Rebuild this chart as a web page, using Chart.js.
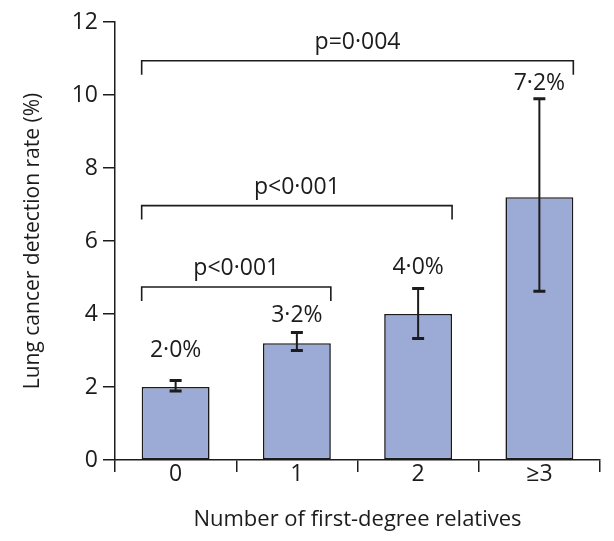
<!DOCTYPE html>
<html>
<head>
<meta charset="utf-8">
<script src="https://cdn.jsdelivr.net/npm/chart.js@4/dist/chart.umd.min.js"></script>
<style>
  html, body { margin: 0; padding: 0; background: #ffffff; }
  #wrap { width: 614px; height: 541px; }
</style>
</head>
<body>
<div id="wrap"><canvas id="chart" width="614" height="541"></canvas></div>
<script>
// Detection rate by number of affected first-degree relatives
const categories = ['0', '1', '2', '≥3'];
const detectionRate = [2.0, 3.2, 4.0, 7.2];
const ciLower = [1.89, 3.00, 3.33, 4.62];
const ciUpper = [2.18, 3.49, 4.70, 9.90];
const rateLabels = ['2·0%', '3·2%', '4·0%', '7·2%'];
const yTicks = [0, 2, 4, 6, 8, 10, 12];

// Pairwise comparisons against the "0 relatives" group
const compareFrom = [0, 0, 0];
const compareTo = [1, 2, 3];
const pValues = ['p<0·001', 'p<0·001', 'p=0·004'];

// Annotation layout (heights of the brackets in axis units, label lifts in px)
const bracketLevel = [4.74, 6.97, 10.94];
const rateLabelLift = [23, 11, 14, 9];

const ink = '#1c1c1c';
const family = '"Open Sans", "Noto Sans", sans-serif';
const textSize = 23;
const weight = 'normal';

const annotations = {
  id: 'annotations',
  afterDatasetsDraw(chart) {
    const { ctx, scales: { y } } = chart;
    const bars = chart.getDatasetMeta(0).data;
    ctx.save();
    ctx.strokeStyle = ink;
    ctx.fillStyle = ink;
    ctx.lineCap = 'butt';

    // confidence interval whiskers
    const capHalf = 6;
    bars.forEach((bar, i) => {
      const top = y.getPixelForValue(ciUpper[i]);
      const bot = y.getPixelForValue(ciLower[i]);
      ctx.lineWidth = 2;
      ctx.beginPath();
      ctx.moveTo(bar.x, top);
      ctx.lineTo(bar.x, bot);
      ctx.stroke();
      ctx.lineWidth = 3;
      ctx.beginPath();
      ctx.moveTo(bar.x - capHalf, top);
      ctx.lineTo(bar.x + capHalf, top);
      ctx.moveTo(bar.x - capHalf, bot);
      ctx.lineTo(bar.x + capHalf, bot);
      ctx.stroke();
    });

    // value labels above each whisker
    ctx.font = `${weight} ${textSize}px ${family}`;
    ctx.textAlign = 'center';
    ctx.textBaseline = 'alphabetic';
    bars.forEach((bar, i) => {
      const top = y.getPixelForValue(ciUpper[i]);
      ctx.fillText(rateLabels[i], bar.x, top - rateLabelLift[i]);
    });

    // comparison brackets with p values
    const leg = 14;
    ctx.lineWidth = 1.6;
    compareFrom.forEach((from, k) => {
      const a = bars[from], b = bars[compareTo[k]];
      const x0 = a.x - a.width / 2;
      const x1 = b.x + b.width / 2;
      const yy = y.getPixelForValue(bracketLevel[k]);
      ctx.beginPath();
      ctx.moveTo(x0, yy + leg);
      ctx.lineTo(x0, yy);
      ctx.lineTo(x1, yy);
      ctx.lineTo(x1, yy + leg);
      ctx.stroke();
      ctx.fillText(pValues[k], (x0 + x1) / 2, yy - 12);
    });
    ctx.restore();
  }
};

new Chart(document.getElementById('chart'), {
  type: 'bar',
  data: {
    labels: categories,
    datasets: [{
      data: detectionRate,
      backgroundColor: '#9cabd6',
      borderColor: '#1a1a1a',
      borderWidth: 1.6,
      borderSkipped: false,
      categoryPercentage: 1,
      barPercentage: 0.56
    }]
  },
  options: {
    responsive: false,
    animation: false,
    devicePixelRatio: 1,
    layout: { padding: { left: 0, top: 22, right: 14, bottom: 0 } },
    plugins: { legend: { display: false }, tooltip: { enabled: false } },
    scales: {
      x: {
        grid: { offset: true, drawOnChartArea: false, drawTicks: true, tickLength: 12, color: ink, lineWidth: 1.5 },
        border: { display: true, color: ink, width: 1.5 },
        ticks: { color: ink, font: { family, size: textSize, weight }, padding: -11 },
        title: {
          display: true,
          text: 'Number of first-degree relatives',
          color: ink,
          font: { family, size: 22, weight },
          padding: { top: 0, bottom: 8 }
        },
        afterFit: s => { s.height = 81; }
      },
      y: {
        min: 0,
        max: 12,
        afterBuildTicks: s => { s.ticks = yTicks.map(v => ({ value: v })); },
        grid: { drawOnChartArea: false, drawTicks: true, tickLength: 12, color: ink, lineWidth: 1.5 },
        border: { display: true, color: ink, width: 1.5 },
        ticks: { color: ink, font: { family, size: textSize, weight }, padding: 5 },
        title: {
          display: true,
          text: 'Lung cancer detection rate (%)',
          color: ink,
          font: { family, size: 21, weight },
          padding: { top: 20, bottom: 0 }
        },
        afterFit: s => { s.width = 115; }
      }
    }
  },
  plugins: [annotations]
});
</script>
</body>
</html>
